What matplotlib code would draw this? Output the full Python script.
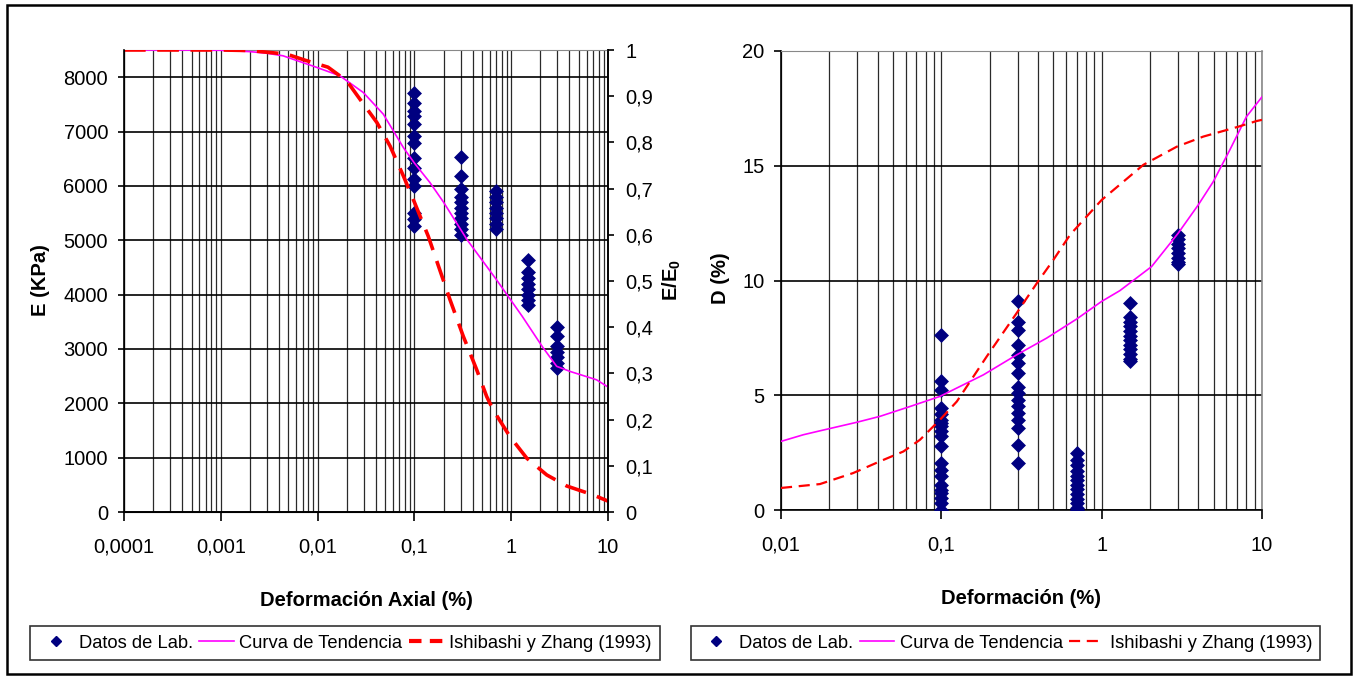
import matplotlib
matplotlib.use("Agg")
import matplotlib.pyplot as plt
from matplotlib.patches import Rectangle
from matplotlib.lines import Line2D
from matplotlib.ticker import FixedLocator, LogLocator, NullFormatter

# ---------------- data ----------------
# Left chart: modulus E (KPa) vs axial strain (%)
lab_strain_L = [0.1] * 14 + [0.3] * 11 + [0.7] * 8 + [1.5] * 8 + [3.0] * 7
lab_E_L = [7718, 7533, 7379, 7287, 7134, 6918, 6796, 6519, 6335, 6119, 5996, 5506, 5382, 5259,
           6530, 6180, 5940, 5800, 5700, 5600, 5500, 5400, 5300, 5200, 5100,
           5900, 5800, 5700, 5600, 5500, 5400, 5300, 5200,
           4640, 4420, 4300, 4200, 4100, 4000, 3900, 3800,
           3410, 3230, 3050, 2950, 2850, 2750, 2650]

trend_strain_L = [0.0001, 0.0003, 0.001, 0.002, 0.003, 0.0044, 0.0098, 0.017, 0.0297, 0.0478,
                  0.077, 0.1, 0.145, 0.2, 0.35, 0.7, 1.3, 2.1, 2.95, 4.06, 7.6, 10]
trend_E_L = [8500, 8500, 8495, 8470, 8440, 8393, 8180, 8025, 7717, 7318,
             6704, 6420, 6059, 5700, 5010, 4280, 3600, 3040, 2680, 2586, 2433, 2300]

ishi_strain_L = [0.0001, 0.001, 0.002, 0.0048, 0.0074, 0.0128, 0.02, 0.0274, 0.041, 0.056,
                 0.077, 0.1, 0.139, 0.233, 0.32, 0.44, 0.558, 0.65, 0.97, 1.45, 2.33, 3.74, 7.06, 10]
ishi_E_L = [8500, 8500, 8490, 8424, 8313, 8184, 7932, 7594, 7165, 6734,
            6181, 5700, 5074, 3908, 3232, 2618, 2125, 1880, 1388, 989, 682, 479, 313, 200]

# Right chart: damping D (%) vs strain (%)
lab_strain_R = [0.1] * 20 + [0.3] * 16 + [0.7] * 13 + [1.5] * 12 + [3.0] * 8
lab_D_R = [7.63, 5.60, 5.24, 4.44, 4.2, 3.93, 3.79, 3.64, 3.43, 3.21, 2.77, 2.05, 1.76, 1.47,
           1.10, 0.89, 0.74, 0.52, 0.30, 0.0,
           9.09, 8.21, 7.85, 7.20, 6.76, 6.40, 5.97, 5.38, 5.09, 4.80, 4.51, 4.22, 3.93, 3.57, 2.84, 2.05,
           2.48, 2.2, 1.95, 1.7, 1.5, 1.3, 1.1, 0.9, 0.7, 0.5, 0.3, 0.1, 0.0,
           9.0, 8.4, 8.2, 8.0, 7.8, 7.6, 7.4, 7.2, 7.0, 6.8, 6.6, 6.5,
           12.0, 11.8, 11.6, 11.4, 11.2, 11.0, 10.8, 10.7]

trend_strain_R = [0.01, 0.0138, 0.0175, 0.0296, 0.0414, 0.0638, 0.098, 0.183, 0.295, 0.454,
                  0.698, 1.0, 1.30, 2.05, 3.0, 4.0, 4.97, 6.3, 8.0, 10]
trend_D_R = [2.99, 3.28, 3.45, 3.82, 4.08, 4.51, 4.95, 5.89, 6.76, 7.49,
             8.32, 9.09, 9.56, 10.61, 12.06, 13.29, 14.31, 15.69, 17.14, 18.0]

ishi_strain_R = [0.01, 0.0175, 0.0282, 0.0414, 0.058, 0.0736, 0.098, 0.125, 0.192, 0.295,
                 0.394, 0.5, 0.635, 1.0, 1.82, 2.94, 4.3, 6.95, 9.27, 10]
ishi_D_R = [0.96, 1.13, 1.61, 2.12, 2.55, 3.06, 3.93, 4.73, 6.69, 8.58,
            9.88, 10.9, 11.99, 13.51, 15.04, 15.83, 16.27, 16.68, 16.95, 17.0]

xticks_L = [0.0001, 0.001, 0.01, 0.1, 1, 10]
xticklabels_L = ["0,0001", "0,001", "0,01", "0,1", "1", "10"]
yticks_L = [0, 1000, 2000, 3000, 4000, 5000, 6000, 7000, 8000]
ratio_ticks = [0, 0.1, 0.2, 0.3, 0.4, 0.5, 0.6, 0.7, 0.8, 0.9, 1.0]
ratio_labels = ["0", "0,1", "0,2", "0,3", "0,4", "0,5", "0,6", "0,7", "0,8", "0,9", "1"]
xticks_R = [0.01, 0.1, 1, 10]
xticklabels_R = ["0,01", "0,1", "1", "10"]
yticks_R = [0, 5, 10, 15, 20]

legend_labels = ["Datos de Lab.", "Curva de Tendencia", "Ishibashi y Zhang (1993)"]

# ---------------- style ----------------
FAM = ["Liberation Sans", "DejaVu Sans"]
plt.rcParams["font.family"] = FAM
plt.rcParams["mathtext.fontset"] = "custom"
plt.rcParams["mathtext.rm"] = "Liberation Sans"
plt.rcParams["mathtext.bf"] = "Liberation Sans:bold"

NAVY = "#000080"
MAG = "#FF00FF"
RED = "#FF0000"
TICK_FS = 14.5
LAB_FS = 14.5
LEG_FS = 13.2

fig = plt.figure(figsize=(13.59, 6.79), dpi=100)

W, H = 1359.0, 679.0
def ax_rect(x0, y0, x1, y1):
    return [x0 / W, 1 - y1 / H, (x1 - x0) / W, (y1 - y0) / H]

axL = fig.add_axes(ax_rect(124, 50, 608, 512))
axR = fig.add_axes(ax_rect(781, 51, 1262, 510))

def style_grid(ax):
    ax.set_axisbelow(True)
    ax.grid(True, which="major", axis="y", color="black", lw=1.2)
    ax.grid(True, which="both", axis="x", color="#2a2a2a", lw=0.9)
    for s in ["left", "bottom", "right"]:
        ax.spines[s].set_color("black")
        ax.spines[s].set_linewidth(1.2)
    ax.spines["top"].set_color("#888888")
    ax.tick_params(axis="x", which="minor", length=0)

# ---- left chart ----
axL.set_xscale("log")
axL.set_xlim(0.0001, 10)
axL.set_ylim(0, 8500)
axL.scatter(lab_strain_L, lab_E_L, marker="D", s=58, color=NAVY, zorder=3, linewidths=0)
axL.plot(trend_strain_L, trend_E_L, color=MAG, lw=1.2, zorder=4)
axL.plot(ishi_strain_L, ishi_E_L, color=RED, lw=2.6, dashes=(6, 3.2), zorder=4)
axL.xaxis.set_major_locator(FixedLocator(xticks_L))
axL.xaxis.set_minor_locator(LogLocator(base=10, subs=range(2, 10)))
axL.xaxis.set_minor_formatter(NullFormatter())
axL.set_xticklabels(xticklabels_L)
axL.set_yticks(yticks_L)
axL.set_yticklabels([str(v) for v in yticks_L])
style_grid(axL)
axL.tick_params(axis="x", which="major", direction="out", length=6.5, width=1.2, pad=12, labelsize=TICK_FS)
axL.tick_params(axis="y", direction="out", length=4.5, width=1.2, pad=7, labelsize=TICK_FS)

axL2 = axL.twinx()
axL2.set_ylim(0, 1)
axL2.set_yticks(ratio_ticks)
axL2.set_yticklabels(ratio_labels)
axL2.tick_params(axis="y", direction="out", length=4.5, width=1.2, pad=8, labelsize=TICK_FS)
axL2.spines["right"].set_linewidth(1.2)
axL2.spines["top"].set_visible(False)

# ---- right chart ----
axR.set_xscale("log")
axR.set_xlim(0.01, 10)
axR.set_ylim(0, 20)
axR.scatter(lab_strain_R, lab_D_R, marker="D", s=58, color=NAVY, zorder=3, linewidths=0)
axR.plot(trend_strain_R, trend_D_R, color=MAG, lw=1.2, zorder=4)
axR.plot(ishi_strain_R, ishi_D_R, color=RED, lw=1.6, dashes=(5, 3), zorder=4)
axR.xaxis.set_major_locator(FixedLocator(xticks_R))
axR.xaxis.set_minor_locator(LogLocator(base=10, subs=range(2, 10)))
axR.xaxis.set_minor_formatter(NullFormatter())
axR.set_xticklabels(xticklabels_R)
axR.set_yticks(yticks_R)
axR.set_yticklabels([str(v) for v in yticks_R])
style_grid(axR)
axR.spines["right"].set_color("#888888")
axR.tick_params(axis="x", which="major", direction="out", length=6.5, width=1.2, pad=12, labelsize=TICK_FS)
axR.tick_params(axis="y", direction="out", length=5, width=1.2, pad=7, labelsize=TICK_FS)

# ---- axis titles ----
fig.text(40 / W, 1 - 280 / H, "E (KPa)", rotation=90, ha="center", va="center",
         fontsize=LAB_FS, fontweight="bold")
fig.text(672 / W, 1 - 280 / H, r"$\mathbf{E/E_0}$", rotation=90, ha="center", va="center",
         fontsize=LAB_FS)
fig.text(720 / W, 1 - 278 / H, "D (%)", rotation=90, ha="center", va="center",
         fontsize=LAB_FS, fontweight="bold")
fig.text(366 / W, 1 - 600 / H, "Deformación Axial (%)", ha="center", va="center",
         fontsize=LAB_FS, fontweight="bold")
fig.text(1021 / W, 1 - 598 / H, "Deformación (%)", ha="center", va="center",
         fontsize=LAB_FS, fontweight="bold")

# ---- legends ----
def make_handles(red_lw, red_dash):
    return [Line2D([], [], marker="D", ls="none", color=NAVY, markersize=5.5),
            Line2D([], [], color=MAG, lw=1.2),
            Line2D([], [], color=RED, lw=red_lw, dashes=red_dash)]

for cx, h in [((34 + 656) / 2, make_handles(3.0, (3, 2))),
              ((699 + 1312) / 2, make_handles(1.6, (5, 3)))]:
    leg = fig.legend(h, legend_labels, loc="center", bbox_to_anchor=(cx / W, 1 - 643 / H),
                     ncol=3, fontsize=LEG_FS, frameon=True, fancybox=False, shadow=False,
                     handlelength=1.9, handletextpad=0.3, columnspacing=0.35,
                     borderpad=0.45, borderaxespad=0)
    leg.get_frame().set_edgecolor("black")
    leg.get_frame().set_linewidth(1.2)

# ---- outer border ----
fig.add_artist(Rectangle((7 / W, 1 - 674 / H), (1351 - 7) / W, (674 - 5) / H,
                         transform=fig.transFigure, fill=False, ec="black", lw=1.8))

fig.savefig("out.png", dpi=100)
